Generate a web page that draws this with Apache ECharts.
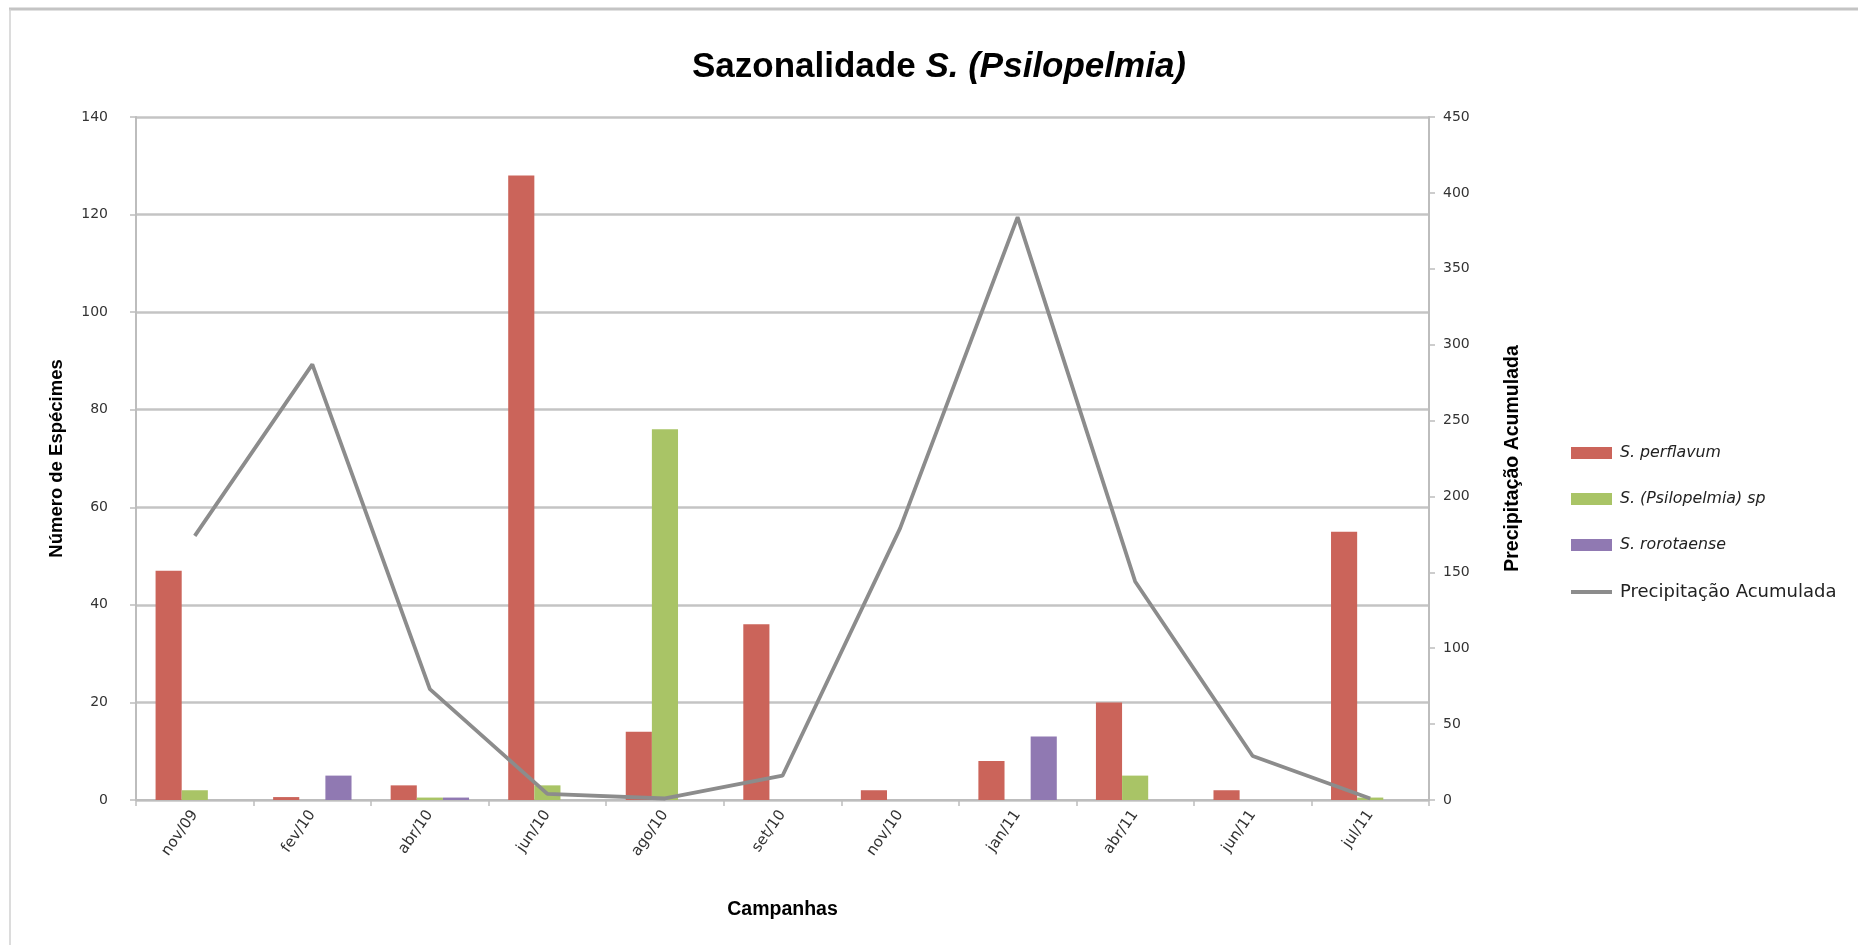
<!DOCTYPE html>
<html>
<head>
<meta charset="utf-8">
<title>Sazonalidade S. (Psilopelmia)</title>
<script src="https://cdn.jsdelivr.net/npm/echarts@6/dist/echarts.min.js"></script>
<style>
  html, body { margin: 0; padding: 0; background: #ffffff; }
  #chart { width: 1858px; height: 945px; }
</style>
</head>
<body>
<div id="chart"></div>
<script>
// Sampling campaigns
const campanhas = ['nov/09', 'fev/10', 'abr/10', 'jun/10', 'ago/10', 'set/10', 'nov/10', 'jan/11', 'abr/11', 'jun/11', 'jul/11'];

// Specimen counts per species
const perflavum   = [47, 0.6, 3, 128, 14, 36, 2, 8, 20, 2, 55];
const psilopelmia = [2, 0, 0.5, 3, 76, 0, 0, 0, 5, 0, 0.5];
const rorotaense  = [0, 5, 0.5, 0, 0, 0, 0, 13, 0, 0, 0];

// Accumulated rainfall per campaign
const precipitacao = [174, 287, 73, 4, 1, 16, 179, 384, 144, 29, 1];

// Axis tick ranges
const leftTicks  = { min: 0, max: 140, interval: 20 };
const rightTicks = { min: 0, max: 450, interval: 50 };

const headFont = "'Liberation Sans', Arial, sans-serif";
const plain = "'DejaVu Sans', sans-serif";
const axisGray = '#bdbdbd';
const lineGray = '#8c8c8c';

const chart = echarts.init(document.getElementById('chart'), null, { renderer: 'canvas' });

chart.setOption({
  backgroundColor: '#ffffff',
  animation: false,
  title: {
    left: 687,
    top: 45,
    text: '{a|Sazonalidade }{b|S. (Psilopelmia)}',
    textStyle: {
      rich: {
        a: { fontFamily: headFont, fontWeight: 'bold', fontSize: 35, color: '#000000' },
        b: { fontFamily: headFont, fontWeight: 'bold', fontStyle: 'italic', fontSize: 35, color: '#000000' }
      }
    }
  },
  graphic: [
    // chart-area frame along the top and left edges
    { type: 'line', shape: { x1: 9, y1: 9, x2: 1858, y2: 9 }, style: { stroke: '#c4c4c4', lineWidth: 3 } },
    { type: 'line', shape: { x1: 10, y1: 9, x2: 10, y2: 945 }, style: { stroke: '#d0d0d0', lineWidth: 1.5 } }
  ],
  legend: {
    orient: 'vertical',
    left: 1564,
    top: 440,
    itemWidth: 41,
    itemHeight: 12,
    itemGap: 30,
    data: [
      { name: 'S. perflavum', icon: 'rect' },
      { name: 'S. (Psilopelmia) sp', icon: 'rect' },
      { name: 'S. rorotaense', icon: 'rect' },
      { name: 'Precipitação Acumulada', itemStyle: { opacity: 0 }, lineStyle: { color: lineGray, width: 4 } }
    ],
    formatter: function (name) {
      return name.indexOf('S.') === 0 ? '{i|' + name + '}' : '{n|' + name + '}';
    },
    textStyle: {
      padding: [0, 0, 0, 3],
      rich: {
        i: { fontFamily: plain, fontStyle: 'italic', fontSize: 15.8, color: '#222222' },
        n: { fontFamily: plain, fontSize: 18, color: '#222222' }
      }
    }
  },
  grid: { left: 136, right: 429, top: 117, bottom: 145 },
  xAxis: {
    type: 'category',
    data: campanhas,
    name: 'Campanhas',
    nameLocation: 'middle',
    nameGap: 100,
    nameTextStyle: { fontFamily: headFont, fontWeight: 'bold', fontSize: 19.5, color: '#000000' },
    axisLine: { show: true, lineStyle: { color: axisGray, width: 2 } },
    axisTick: { show: true, length: 6, lineStyle: { color: axisGray, width: 1.5 } },
    axisLabel: {
      rotate: 55,
      margin: 12,
      fontFamily: plain,
      fontSize: 15,
      color: '#333333'
    }
  },
  yAxis: [
    {
      type: 'value',
      min: leftTicks.min,
      max: leftTicks.max,
      interval: leftTicks.interval,
      name: 'Número de Espécimes',
      nameLocation: 'middle',
      nameGap: 70,
      nameRotate: 90,
      nameTextStyle: { fontFamily: headFont, fontWeight: 'bold', fontSize: 18.5, color: '#000000' },
      axisLine: { show: true, lineStyle: { color: axisGray, width: 2 } },
      axisTick: { show: true, length: 6, lineStyle: { color: axisGray, width: 1.5 } },
      axisLabel: { margin: 28, fontFamily: plain, fontSize: 14, color: '#333333' },
      splitLine: { show: true, lineStyle: { color: '#c4c4c4', width: 2.5 } }
    },
    {
      type: 'value',
      min: rightTicks.min,
      max: rightTicks.max,
      interval: rightTicks.interval,
      name: 'Precipitação Acumulada',
      nameLocation: 'middle',
      nameGap: 74,
      nameRotate: 90,
      nameTextStyle: { fontFamily: headFont, fontWeight: 'bold', fontSize: 19.5, color: '#000000' },
      axisLine: { show: true, lineStyle: { color: axisGray, width: 2 } },
      axisTick: { show: true, length: 6, lineStyle: { color: axisGray, width: 1.5 } },
      axisLabel: { margin: 14, fontFamily: plain, fontSize: 14, color: '#333333' },
      splitLine: { show: false }
    }
  ],
  series: [
    {
      name: 'S. perflavum',
      type: 'bar',
      data: perflavum,
      barGap: '0%',
      barCategoryGap: '33.3%',
      itemStyle: { color: '#cb645a' }
    },
    {
      name: 'S. (Psilopelmia) sp',
      type: 'bar',
      data: psilopelmia,
      itemStyle: { color: '#a9c466' }
    },
    {
      name: 'S. rorotaense',
      type: 'bar',
      data: rorotaense,
      itemStyle: { color: '#9079b2' }
    },
    {
      name: 'Precipitação Acumulada',
      type: 'line',
      yAxisIndex: 1,
      data: precipitacao,
      symbol: 'none',
      z: 5,
      lineStyle: { color: lineGray, width: 3.8 },
      itemStyle: { color: lineGray }
    }
  ]
});
</script>
</body>
</html>
